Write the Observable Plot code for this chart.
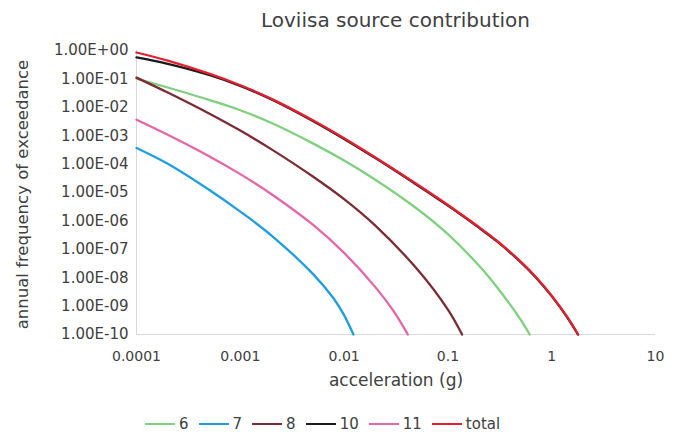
<!DOCTYPE html>
<html>
<head>
<meta charset="utf-8">
<script src="https://cdn.jsdelivr.net/npm/d3@7"></script>
<script src="https://cdn.jsdelivr.net/npm/@observablehq/plot@0.6"></script>
<style>
  body { margin: 0; background: #fff; font-family: "DejaVu Sans", Verdana, sans-serif; color: #404040; }
  #wrap { width: 676px; height: 434px; overflow: hidden; }
  #title { width: 676px; height: 38px; line-height: 40px; font-size: 20px; text-align: center;
           padding-left: 136px; padding-right: 21px; box-sizing: border-box; white-space: nowrap; }
  #chart svg { display: block; }
  #legend { display: flex; align-items: center; height: 36px; padding-top: 16px; padding-left: 145px;
            box-sizing: border-box; font-size: 15px; }
  .item { display: flex; align-items: center; margin-right: 10px; }
  .sw { width: 30px; height: 2.5px; margin-right: 4px; }
</style>
</head>
<body>
<div id="wrap">
  <div id="title">Loviisa source contribution</div>
  <div id="chart"></div>
  <div id="legend"></div>
</div>
<script>
// Hazard curves: annual frequency of exceedance vs. peak acceleration (g), per source zone
const seriesNames = ["6", "7", "8", "10", "11", "total"];
const seriesColors = ["#7fd07f", "#1f9de0", "#7a2b33", "#1a1a1a", "#e466a8", "#e3202f"];

const accel6 = [0.0001, 0.0002, 0.0005, 0.001, 0.002, 0.005, 0.01, 0.02, 0.05, 0.1, 0.2, 0.3, 0.5, 0.614];
const freq6  = [0.103, 0.0498, 0.0182, 7.9e-3, 2.79e-3, 5.37e-4, 1.34e-4, 2.82e-5, 2.73e-6, 3.41e-7, 2.62e-8, 4.42e-9, 3.43e-10, 1e-10];

const accel7 = [0.0001, 0.0002, 0.0005, 0.001, 0.002, 0.005, 0.0079, 0.01, 0.0123];
const freq7  = [3.7e-4, 1.03e-4, 1.25e-5, 2.13e-6, 3.05e-7, 1.36e-8, 1.89e-9, 4.83e-10, 1e-10];

const accel8 = [0.0001, 0.0002, 0.0005, 0.001, 0.002, 0.005, 0.01, 0.02, 0.05, 0.1, 0.137];
const freq8  = [0.111, 0.033, 6.05e-3, 1.51e-3, 3.3e-4, 3.66e-5, 5.82e-6, 6.79e-7, 2.09e-8, 7.5e-10, 1e-10];

const accel10 = [0.0001, 0.0002, 0.0005, 0.001, 0.002, 0.005, 0.01, 0.02, 0.05, 0.1, 0.2, 0.3, 0.5, 0.7, 1, 1.4, 1.79];
const freq10  = [0.57, 0.34, 0.138, 0.057, 0.0188, 3.3e-3, 7.7e-4, 1.63e-4, 1.88e-5, 3.45e-6, 5.7e-7, 1.85e-7, 3.6e-8, 1.04e-8, 2.24e-9, 4.15e-10, 1e-10];

const accel11 = [0.0001, 0.0002, 0.0005, 0.001, 0.002, 0.005, 0.01, 0.02, 0.03, 0.0411];
const freq11  = [3.65e-3, 1.08e-3, 1.9e-4, 4.44e-5, 8.7e-6, 7.33e-7, 7.45e-8, 4.66e-9, 6.65e-10, 1e-10];

const accelTotal = [0.0001, 0.0002, 0.0005, 0.001, 0.002, 0.005, 0.01, 0.02, 0.05, 0.1, 0.2, 0.3, 0.5, 0.7, 1, 1.4, 1.8];
const freqTotal  = [0.85, 0.44, 0.153, 0.06, 0.0198, 3.48e-3, 8.1e-4, 1.71e-4, 1.98e-5, 3.63e-6, 5.98e-7, 1.92e-7, 3.75e-8, 1.08e-8, 2.33e-9, 4.34e-10, 1e-10];

const xTicks = [0.0001, 0.001, 0.01, 0.1, 1, 10];
const xTickLabels = ["0.0001", "0.001", "0.01", "0.1", "1", "10"];
const yTicks = [1, 1e-1, 1e-2, 1e-3, 1e-4, 1e-5, 1e-6, 1e-7, 1e-8, 1e-9, 1e-10];
const yTickLabels = ["1.00E+00", "1.00E-01", "1.00E-02", "1.00E-03", "1.00E-04", "1.00E-05",
                     "1.00E-06", "1.00E-07", "1.00E-08", "1.00E-09", "1.00E-10"];

const xLabelOf = new Map(xTicks.map((t, i) => [t, xTickLabels[i]]));
const yLabelOf = new Map(yTicks.map((t, i) => [t, yTickLabels[i]]));

const seriesData = {
  "6": [accel6, freq6],
  "7": [accel7, freq7],
  "8": [accel8, freq8],
  "10": [accel10, freq10],
  "11": [accel11, freq11],
  "total": [accelTotal, freqTotal]
};
const rows = name => seriesData[name][0].map((a, i) => ({accel: a, freq: seriesData[name][1][i], source: name}));

// drawing order keeps the total on top of source 10
const drawOrder = ["6", "7", "8", "11", "10", "total"];

const chart = Plot.plot({
  width: 676,
  height: 360,
  marginLeft: 136,
  marginRight: 21,
  marginTop: 12,
  marginBottom: 64,
  style: {fontFamily: "'DejaVu Sans', Verdana, sans-serif", fontSize: "14px", color: "#404040", background: "#fff"},
  x: {type: "log", domain: [1e-4, 10]},
  y: {type: "log", domain: [1e-10, 1]},
  marks: [
    Plot.ruleX([1e-4], {stroke: "#d9d9d9"}),
    Plot.ruleY([1e-10], {stroke: "#d9d9d9"}),
    Plot.axisX({ticks: xTicks, tickFormat: d => xLabelOf.get(d), tickSize: 0, tickPadding: 17, fontSize: 14, label: null}),
    Plot.axisY({ticks: yTicks, tickFormat: d => yLabelOf.get(d), tickSize: 0, tickPadding: 8, fontSize: 15, label: null}),
    Plot.text(["acceleration (g)"], {text: d => d, frameAnchor: "bottom", dy: 51, fontSize: 17, fill: "#404040"}),
    Plot.text(["annual frequency of exceedance"], {text: d => d, frameAnchor: "left", textAnchor: "middle", dx: -114, dy: 2, rotate: -90, fontSize: 16.5, fill: "#404040"}),
    ...drawOrder.map(name => Plot.line(rows(name), {
      x: "accel",
      y: "freq",
      stroke: seriesColors[seriesNames.indexOf(name)],
      strokeWidth: 2.3,
      curve: "catmull-rom"
    }))
  ]
});
document.getElementById("chart").appendChild(chart);

// legend below the chart
const legend = document.getElementById("legend");
seriesNames.forEach((name, i) => {
  const item = document.createElement("div");
  item.className = "item";
  const sw = document.createElement("span");
  sw.className = "sw";
  sw.style.background = seriesColors[i];
  const lab = document.createElement("span");
  lab.textContent = name;
  item.appendChild(sw);
  item.appendChild(lab);
  legend.appendChild(item);
});
</script>
</body>
</html>
